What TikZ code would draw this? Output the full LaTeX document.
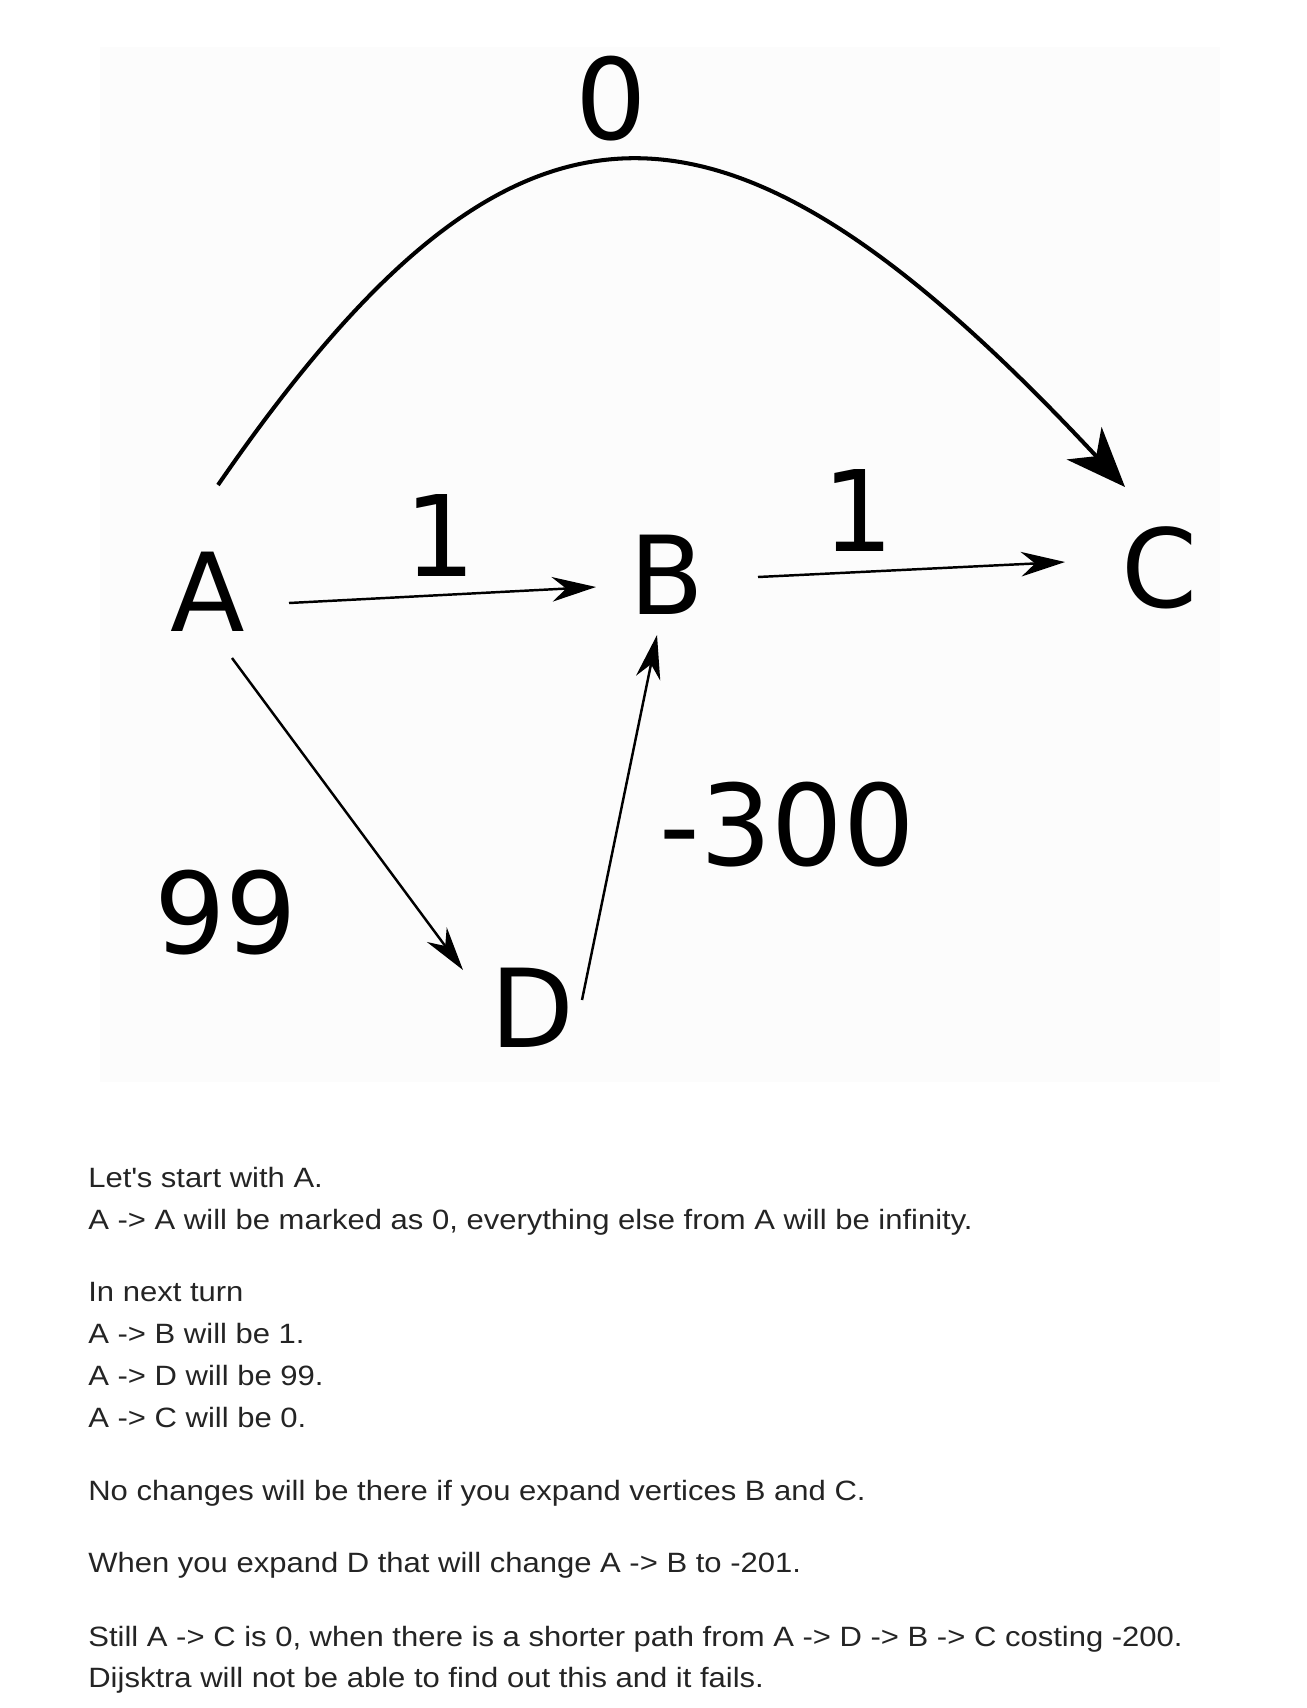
\documentclass[tikz,border=0pt]{standalone}
\usepackage{fontspec}
\setmainfont{Liberation Sans}[FakeStretch=1.11]
\newfontfamily\graphfont{DejaVu Sans}
\usetikzlibrary{arrows.meta}

\definecolor{txt}{rgb}{0.14, 0.14, 0.14}
\definecolor{bg}{rgb}{0.988, 0.988, 0.988}

\begin{document}
\begin{tikzpicture}[x=0.02cm, y=-0.02cm,
		vert/.style={inner sep=0, font=\graphfont\fontsize{62}{62}\selectfont},
		weight/.style={inner sep=0, font=\graphfont\fontsize{64}{64}\selectfont},
		edge/.style={line width=1.4pt, -{Stealth[length=25pt, width=14pt, inset=8pt]}},
		bigedge/.style={line width=2.3pt, -{Stealth[length=34pt, width=27pt, inset=10pt]}},
		line/.style={anchor=base west, inner sep=0, text=txt, font=\fontsize{15.9}{18}\selectfont}]
		\useasboundingbox (0,0) rectangle (1306,1708);
		\fill[bg] (100,47) rectangle (1220,1082);

		% vertices
		\node[vert] (A) at (208,592) {A};
		\node[vert] (B) at (667,575) {B};
		\node[vert] (C) at (1160,568) {C};
		\node[vert] (D) at (532,1008) {D};

		% weights
		\node[weight] (wAC) at (611,99) {0};
		\node[weight] (wAB) at (440,536) {1};
		\node[weight] (wBC) at (858,511) {1};
		\node[weight] (wDB) at (787,825) {-300};
		\node[weight] (wAD) at (226,913) {99};

		% edges
		\draw[bigedge] ([shift={(10,-107)}]A.center) .. controls ([shift={(307,-538)}]A.center) and ([shift={(-439,-514)}]C.center) .. ([shift={(-35,-81)}]C.center);
		\draw[edge] ([shift={(81,11)}]A.center) -- ([shift={(-71,12)}]B.center);
		\draw[edge] ([shift={(91,2)}]B.center) -- ([shift={(-95,-6)}]C.center);
		\draw[edge] ([shift={(24,66)}]A.center) -- ([shift={(-69,-38)}]D.center);
		\draw[edge] ([shift={(50,-8)}]D.center) -- ([shift={(-10,60)}]B.center);

		% text below
		\node[line] (t1) at (88,1187) {Let\textquotesingle s start with A.};
		\node[line] (t2) at (88,1229) {A -> A will be marked as 0, everything else from A will be infinity.};
		\node[line] (t3) at (88,1301) {In next turn};
		\node[line] (t4) at (88,1343) {A -> B will be 1.};
		\node[line] (t5) at (88,1385) {A -> D will be 99.};
		\node[line] (t6) at (88,1427) {A -> C will be 0.};
		\node[line] (t7) at (88,1500) {No changes will be there if you expand vertices B and C.};
		\node[line] (t8) at (88,1572) {When you expand D that will change A -> B to -201.};
		\node[line] (t9) at (88,1646) {Still A -> C is 0, when there is a shorter path from A -> D -> B -> C costing -200.};
		\node[line] (t10) at (88,1687) {Dijsktra will not be able to find out this and it fails.};
	\end{tikzpicture}
\end{document}
